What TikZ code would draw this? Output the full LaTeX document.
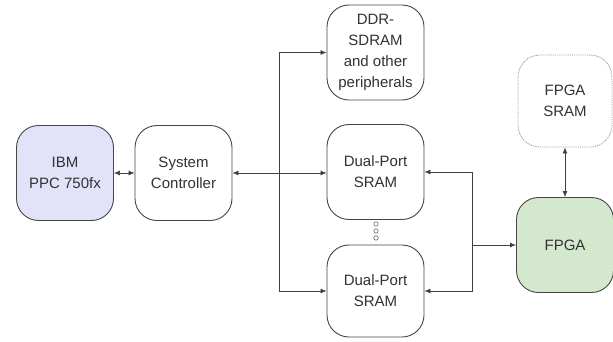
\documentclass[tikz,border=0pt]{standalone}
\usepackage{fontspec}
\setmainfont{Liberation Sans}
\usepackage{xcolor}
\usetikzlibrary{arrows.meta,calc}
\definecolor{ibmfill}{RGB}{226,226,248}
\definecolor{fpgafill}{RGB}{212,232,206}
\definecolor{boxline}{RGB}{70,70,70}
\definecolor{txtgray}{RGB}{50,50,50}

\tikzset{
  blk/.style={draw=boxline, line width=0.9pt, rounded corners=22pt, fill=white,
    minimum width=97pt, minimum height=95pt, align=center, text=txtgray,
    font=\fontsize{15}{21}\selectfont, inner sep=0pt},
  conn/.style={draw=black!75, line width=0.7pt, -{Latex[length=6pt,width=5pt]}},
  bconn/.style={draw=black!75, line width=0.7pt, {Latex[length=6pt,width=5pt]}-{Latex[length=6pt,width=5pt]}}
}

\begin{document}
\begin{tikzpicture}[x=1pt,y=-1pt]
\useasboundingbox (0,0) rectangle (613,341);

\node [blk, fill=ibmfill] (ibm) at (65,173) {IBM\\PPC 750fx};
\node [blk] (sysctl) at (183.5,173) {System\\Controller};
\node [blk] (ddr) at (375.5,52.5) {DDR-\\SDRAM\\and other\\peripherals};
\node [blk] (dpa) at (375.5,172) {Dual-Port\\SRAM};
\node [blk, minimum height=92pt] (dpb) at (375.5,291) {Dual-Port\\SRAM};
\node [blk, draw=black!40, densely dotted, minimum width=94pt, minimum height=92pt] (fsram) at (565,101) {FPGA\\SRAM};
\node [blk, fill=fpgafill] (fpga) at (565,245) {FPGA};

% links on the left
\draw[bconn] (ibm) -- (sysctl);
\draw[bconn] (sysctl.east) -- (sysctl.east -| dpa.west);

\coordinate (lbus) at (279,173);
\draw[conn] (lbus) |- (ddr.west);
\draw[conn] (lbus) |- (dpb.west);

% links on the right
\coordinate (rbus) at (472,245);
\draw[conn] (rbus) |- (dpa.east);
\draw[conn] (rbus) |- (dpb.east);
\draw[conn] (rbus) -- (fpga.west);
\draw[bconn] (fsram) -- (fpga);

% dots between the two SRAMs
\foreach \y in {224,231,238}
  \draw[black!60, line width=0.6pt] (376,\y) circle (2.2pt);
\end{tikzpicture}
\end{document}
